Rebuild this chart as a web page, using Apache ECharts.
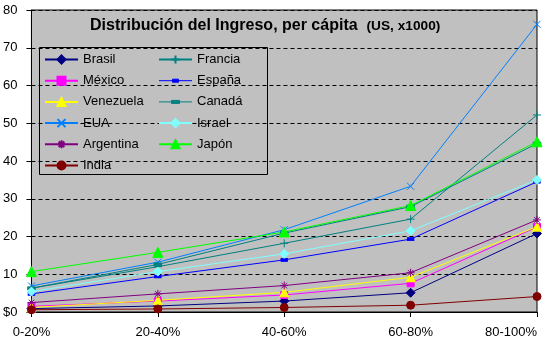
<!DOCTYPE html>
<html>
<head>
<meta charset="utf-8">
<script src="https://cdn.jsdelivr.net/npm/echarts@6/dist/echarts.min.js"></script>
<style>
  html, body { margin: 0; padding: 0; background: #ffffff; }
  #chart { width: 545px; height: 343px; }
</style>
</head>
<body>
<div id="chart"></div>
<script>
// Income per capita by population quintile (US$, thousands)
const quintiles = ['0-20%', '20-40%', '40-60%', '60-80%', '80-100%'];

const brasil    = [0.9, 1.6, 2.9, 5.1, 20.8];
const mexico    = [1.5, 2.9, 4.5, 7.6, 22.5];
const venezuela = [1.2, 3.1, 5.2, 9.2, 22.6];
const eua       = [6.9, 13.2, 21.8, 33.3, 76.2];
const argentina = [2.5, 4.8, 7.0, 10.4, 24.4];
const india     = [0.6, 0.8, 1.2, 1.8, 4.1];
const francia   = [6.3, 12.0, 18.2, 24.6, 52.2];
const espana    = [4.8, 9.4, 13.8, 19.3, 34.5];
const canada    = [6.3, 12.6, 20.9, 27.9, 44.6];
const israel    = [5.4, 10.7, 15.4, 21.5, 35.0];
const japon     = [10.7, 15.8, 21.2, 28.2, 45.1];

const yTicks = { min: 0, max: 80, step: 10 };

const SYM_PLUS = 'path://M0,5L10,5M5,0L5,10';
const SYM_CROSS = 'path://M0,0L10,10M10,0L0,10';
const SYM_STAR = 'path://M0,5L10,5M5,0L5,10M1.5,1.5L8.5,8.5M8.5,1.5L1.5,8.5';

function mk(name, data, color, symbol, size) {
  return {
    name: name,
    type: 'line',
    data: data,
    color: color,
    symbol: symbol,
    symbolSize: size,
    showSymbol: true,
    animation: false,
    lineStyle: { width: 1, color: color },
    itemStyle: { color: color, borderColor: color, borderWidth: 1 },
    emphasis: { disabled: true }
  };
}

const series = [
  mk('Brasil', brasil, '#000080', 'diamond', 9),
  mk('México', mexico, '#ff00ff', 'rect', 7),
  mk('Venezuela', venezuela, '#ffff00', 'triangle', 9),
  mk('EUA', eua, '#0080ff', SYM_CROSS, 7),
  mk('Argentina', argentina, '#800080', SYM_STAR, 8),
  mk('India', india, '#800000', 'circle', 8),
  mk('Francia', francia, '#008080', SYM_PLUS, 8),
  mk('España', espana, '#0000ff', 'rect', [6, 3]),
  mk('Canadá', canada, '#008080', 'rect', [7, 3]),
  mk('Israel', israel, '#80ffff', 'diamond', 9),
  mk('Japón', japon, '#00ff00', 'triangle', 10)
];

// legend keys for the dash-marker series: a line with a short thick bar on it
function dashIcon(barHalf) {
  const a = 16.5 - barHalf, b = 16.5 + barHalf;
  return 'path://M0,0M33,10M0,5L33,5M' + a + ',3.5L' + b + ',3.5L' + b + ',6.5L' + a + ',6.5Z';
}

const legendText = { color: '#000', fontSize: 13, fontFamily: 'Liberation Sans, Arial, sans-serif' };
const legendBase = {
  orient: 'vertical',
  top: 53,
  itemWidth: 33, itemHeight: 10, itemGap: 8.2,
  padding: 0,
  textStyle: legendText,
  selectedMode: false
};

const chart = echarts.init(document.getElementById('chart'), null, { renderer: 'canvas' });
chart.setOption({
  backgroundColor: '#ffffff',
  animation: false,
  textStyle: { fontFamily: 'Liberation Sans, Arial, sans-serif' },
  title: {
    text: '{a|Distribución del Ingreso, per cápita  }{b|(US, x1000)}',
    left: 90,
    top: 18,
    padding: 0,
    textStyle: {
      rich: {
        a: { fontSize: 16, fontWeight: 'bold', color: '#000', fontFamily: 'Liberation Sans, Arial, sans-serif' },
        b: { fontSize: 13.7, fontWeight: 'bold', color: '#000', fontFamily: 'Liberation Sans, Arial, sans-serif' }
      }
    }
  },
  grid: {
    left: 31, right: 8, top: 10, bottom: 31,
    show: true,
    backgroundColor: '#c0c0c0',
    borderColor: '#000',
    borderWidth: 1
  },
  legend: [
    Object.assign({}, legendBase, {
      left: 44,
      data: ['Brasil', 'México', 'Venezuela', 'EUA', 'Argentina', 'India']
    }),
    Object.assign({}, legendBase, {
      left: 158,
      data: [
        'Francia',
        { name: 'España', icon: dashIcon(3), itemStyle: { color: '#0000ff', borderColor: '#0000ff', borderWidth: 1 } },
        { name: 'Canadá', icon: dashIcon(4), itemStyle: { color: '#008080', borderColor: '#008080', borderWidth: 1 } },
        'Israel',
        'Japón'
      ]
    })
  ],
  graphic: [
    {
      type: 'rect',
      shape: { x: 39.5, y: 47.5, width: 228, height: 127 },
      style: { fill: null, stroke: '#000', lineWidth: 1 },
      z: 5
    }
  ],
  xAxis: {
    type: 'category',
    data: quintiles,
    boundaryGap: false,
    axisLine: { lineStyle: { color: '#000', width: 1 } },
    axisTick: { show: true, length: 5, lineStyle: { color: '#000' } },
    axisLabel: { color: '#000', fontSize: 13, margin: 14, alignMaxLabel: 'right' },
    splitLine: { show: false }
  },
  yAxis: {
    type: 'value',
    min: yTicks.min,
    max: yTicks.max,
    interval: yTicks.step,
    axisLine: { show: true, lineStyle: { color: '#000', width: 1 } },
    axisTick: { show: true, length: 5, lineStyle: { color: '#000' } },
    axisLabel: {
      color: '#000', fontSize: 13, margin: 14,
      formatter: v => (v === 0 ? '$0' : String(v))
    },
    splitLine: { show: true, lineStyle: { color: '#000', type: [4, 3], width: 1 } }
  },
  series: series
});
</script>
</body>
</html>
